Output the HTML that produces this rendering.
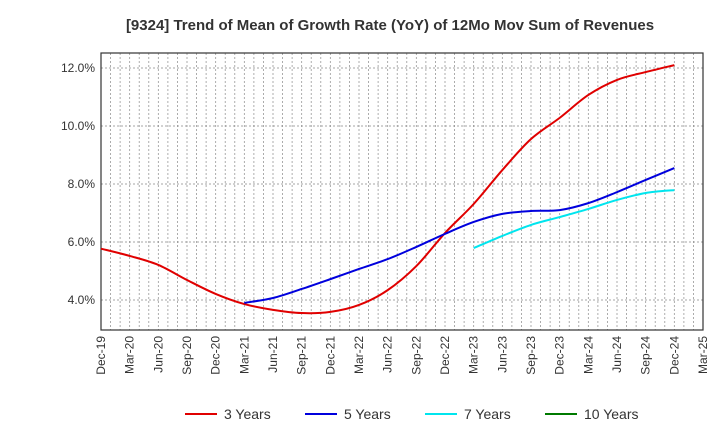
<!DOCTYPE html>
<html><head><meta charset="utf-8"><style>
body{margin:0;background:#fff;font-family:"Liberation Sans",sans-serif}
svg text{font-family:"Liberation Sans",sans-serif}
</style></head><body>
<svg id="chart" width="720" height="440" viewBox="0 0 720 440" xmlns="http://www.w3.org/2000/svg">
<text x="390" y="30" text-anchor="middle" font-size="15" font-weight="bold" fill="#333">[9324]  Trend of Mean of Growth Rate (YoY) of 12Mo Mov Sum of Revenues</text>
<g id="grid"></g><g id="axes"></g><g id="series"></g><g id="legend"></g>
</svg>
<script>
const xLabels=["Dec-19","Mar-20","Jun-20","Sep-20","Dec-20","Mar-21","Jun-21","Sep-21","Dec-21","Mar-22","Jun-22","Sep-22","Dec-22","Mar-23","Jun-23","Sep-23","Dec-23","Mar-24","Jun-24","Sep-24","Dec-24","Mar-25"];
const yTicks=[4,6,8,10,12];
const s3=[5.77,5.52,5.21,4.69,4.21,3.86,3.66,3.55,3.59,3.83,4.34,5.17,6.31,7.31,8.48,9.55,10.28,11.07,11.59,11.86,12.1];
const s5=[null,null,null,null,null,3.9,4.07,4.38,4.72,5.07,5.41,5.83,6.28,6.69,6.97,7.07,7.1,7.34,7.72,8.14,8.55];
const s7=[null,null,null,null,null,null,null,null,null,null,null,null,null,5.79,6.21,6.59,6.86,7.14,7.45,7.69,7.79];
const s10=[];
const NS="http://www.w3.org/2000/svg";
const L=101,R=703,T=53,B=330;
const X=i=>L+i*(R-L)/21;
const Y=v=>300-(v-4)*29;
function mk(tag,attrs,parent){const e=document.createElementNS(NS,tag);for(const k in attrs)e.setAttribute(k,attrs[k]);parent.appendChild(e);return e;}
const grid=document.getElementById('grid'),axes=document.getElementById('axes'),ser=document.getElementById('series'),leg=document.getElementById('legend');
for(let m=1;m<63;m++){const x=L+m*(R-L)/63;const g=mk('line',{x1:x,x2:x,y1:T,y2:B,stroke:'#999','stroke-dasharray':'2,2','stroke-width':0.8},grid);

}
yTicks.forEach(v=>{const g=mk('line',{x1:L,x2:R,y1:Y(v),y2:Y(v),stroke:'#888','stroke-dasharray':'2,2','stroke-width':0.8},grid);


const t=mk('text',{x:L-6,y:Y(v)+4,'text-anchor':'end','font-size':12,fill:'#333'},axes);t.textContent=v.toFixed(1)+'%';

});
const fr=mk('rect',{x:L,y:T,width:R-L,height:B-T,fill:'none',stroke:'#333','stroke-width':1.2},axes);


xLabels.forEach((lb,i)=>{const x=X(i);const t=mk('text',{transform:`translate(${x+4},${B+6}) rotate(-90)`,'text-anchor':'end','font-size':12,fill:'#333'},axes);t.textContent=lb;

});
function path(data,color,name){const pts=[];data.forEach((v,i)=>{if(v!=null)pts.push([X(i),Y(v)]);});if(pts.length<2)return;
let d=`M${pts[0][0]},${pts[0][1]}`;for(let i=0;i<pts.length-1;i++){const p0=pts[i-1]||pts[i],p1=pts[i],p2=pts[i+1],p3=pts[i+2]||p2;
d+=` C${p1[0]+(p2[0]-p0[0])/6},${p1[1]+(p2[1]-p0[1])/6} ${p2[0]-(p3[0]-p1[0])/6},${p2[1]-(p3[1]-p1[1])/6} ${p2[0]},${p2[1]}`;}
const p=mk('path',{d:d,fill:'none',stroke:color,'stroke-width':2},ser);

}
path(s3,'#e00000','line-3-years');path(s5,'#0000dd','line-5-years');path(s7,'#00e5ee','line-7-years');path(s10,'#007a00','line-10-years');
[['3 Years','#e00000',185],['5 Years','#0000dd',305],['7 Years','#00e5ee',425],['10 Years','#007a00',545]].forEach(([n,c,x])=>{
const g=mk('g',{},leg);

mk('line',{x1:x,x2:x+32,y1:414,y2:414,stroke:c,'stroke-width':2},g);
const t=mk('text',{x:x+39,y:419,'font-size':14,fill:'#333'},g);t.textContent=n;});
</script>
</body></html>
